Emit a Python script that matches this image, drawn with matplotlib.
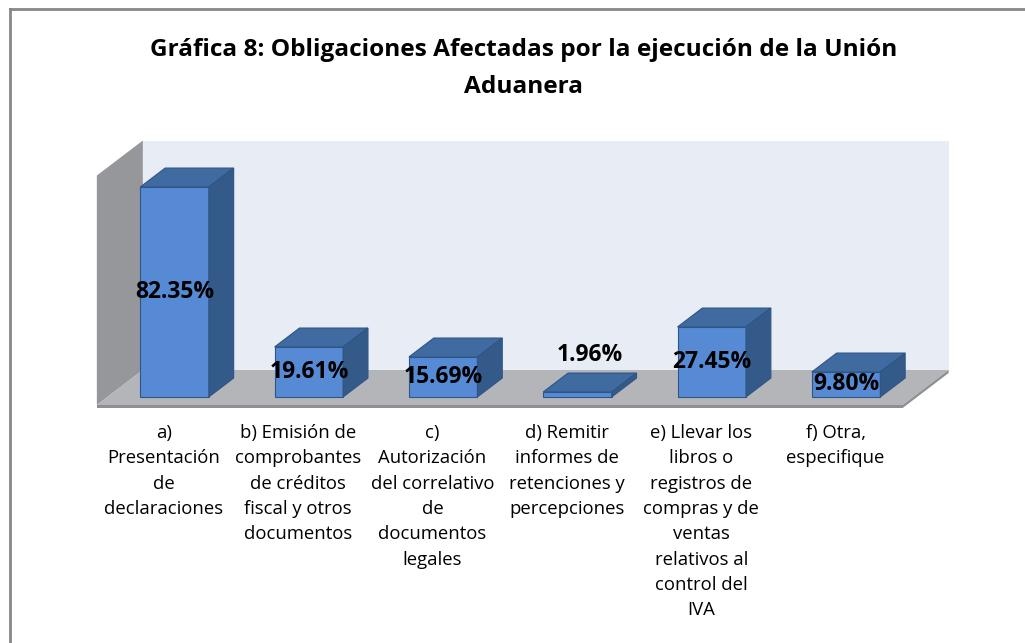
import matplotlib.pyplot as plt
from matplotlib.patches import Polygon

# data
categorias = [
    "a)\nPresentación\nde\ndeclaraciones",
    "b) Emisión de\ncomprobantes\nde créditos\nfiscal y otros\ndocumentos",
    "c)\nAutorización\ndel correlativo\nde\ndocumentos\nlegales",
    "d) Remitir\ninformes de\nretenciones y\npercepciones",
    "e) Llevar los\nlibros o\nregistros de\ncompras y de\nventas\nrelativos al\ncontrol del\nIVA",
    "f) Otra,\nespecifique",
]
porcentajes = [82.35, 19.61, 15.69, 1.96, 27.45, 9.80]
etiquetas = ["82.35%", "19.61%", "15.69%", "1.96%", "27.45%", "9.80%"]
titulo = "Gráfica 8: Obligaciones Afectadas por la ejecución de la Unión\nAduanera"
y_max = 90

plt.rcParams['font.family'] = ['Open Sans', 'DejaVu Sans']

W, H = 1025, 643
fig = plt.figure(figsize=(W / 100, H / 100), dpi=100)
ax = fig.add_axes([0, 0, 1, 1])

# pixel calibration of the pseudo-3D frame
x0_px, dx_px = 164.0, 134.3     # category 0 and category step
y0_px, py_px = 405.0, 2.55      # floor front and px per %
ax.set_xlim(-x0_px / dx_px, (W - x0_px) / dx_px)
ax.set_ylim((y0_px - H) / py_px, y0_px / py_px)
ax.axis('off')

DX = 46 / dx_px   # depth shift along x (full depth)
DY = 35 / py_px   # depth shift along y


def P(x, y, z):
    return (x + z * DX, y + z * DY)


def poly(pts, fc, ec='none', lw=0.8, z=1):
    ax.add_patch(Polygon(pts, closed=True, fc=fc, ec=ec, lw=lw, zorder=z))


n = len(porcentajes)
xl, xr = -0.5, n - 0.5

# back wall, side wall, floor
poly([P(xl, 0, 1), P(xr, 0, 1), P(xr, y_max, 1), P(xl, y_max, 1)], '#e8ecf5')
poly([P(xl, 0, 0), P(xl, 0, 1), P(xl, y_max, 1), P(xl, y_max, 0)], '#96979b')
poly([P(xl, 0, 0), P(xr, 0, 0), P(xr, 0, 1), P(xl, 0, 1)], '#b3b5b9')
t = 3 / py_px
poly([P(xl, 0, 0), P(xr, 0, 0), P(xr, -t, 0), P(xl, -t, 0)], '#8e8f93', z=2)
poly([P(xr, 0, 0), P(xr, 0, 1), P(xr, -t, 1), P(xr, -t, 0)], '#8e8f93', z=2)

# bars
w = 0.51
z0, z1 = 0.23, 0.77
edge = '#2f5586'
for i, v in enumerate(porcentajes):
    a, b = i - w / 2, i + w / 2
    poly([P(a, 0, z0), P(b, 0, z0), P(b, v, z0), P(a, v, z0)], '#568ad4', edge, z=3)
    poly([P(a, v, z0), P(b, v, z0), P(b, v, z1), P(a, v, z1)], '#3f6ba1', edge, z=3)
    poly([P(b, 0, z0), P(b, 0, z1), P(b, v, z1), P(b, v, z0)], '#335a88', edge, z=3)

    if v < 5:
        lx, ly = P(i, v, 0.5)
        ly += 28 / py_px
    else:
        lx, ly = P(i, v / 2, z0)
    ax.text(lx, ly, etiquetas[i], ha='center', va='center',
            fontsize=16.5, fontweight='bold', color='black', zorder=5)

# category labels
for i, lab in enumerate(categorias):
    ax.text(i, -7.5, lab, ha='center', va='top', fontsize=13.3,
            linespacing=1.52, color='black')

fig.text(0.511, 1 - 38 / H, titulo, ha='center', va='top', fontsize=17.6,
         fontweight='bold', linespacing=1.72)

# chart border (top and left visible)
fig.add_artist(plt.Line2D([10 / W, 10 / W], [0, 1 - 8.5 / H], transform=fig.transFigure,
                          color='#878787', lw=2))
fig.add_artist(plt.Line2D([10 / W, 1], [1 - 8.5 / H, 1 - 8.5 / H], transform=fig.transFigure,
                          color='#878787', lw=2))

fig.savefig('out.png', dpi=100)
